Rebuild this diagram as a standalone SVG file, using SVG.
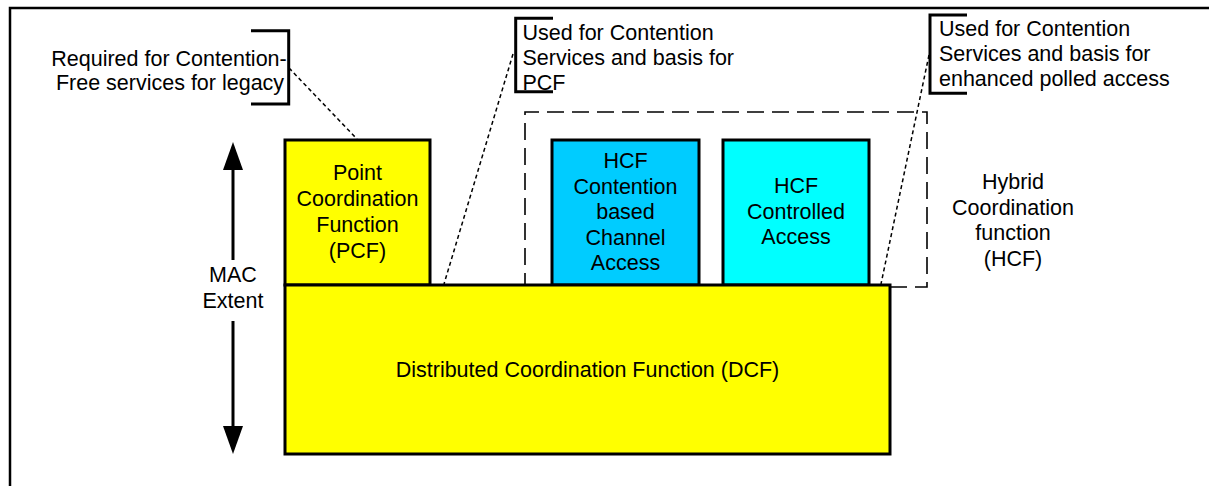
<svg xmlns="http://www.w3.org/2000/svg" width="1209" height="486" viewBox="0 0 1209 486">
<style>
text{font-family:"Liberation Sans",Arial,sans-serif;font-size:21.5px;fill:#000}
.c{text-anchor:middle}
.box{stroke:#000;stroke-width:3}
.br{fill:none;stroke:#000;stroke-width:3}
.dot{fill:none;stroke:#000;stroke-width:1.5;stroke-dasharray:4 3}
.dash{fill:none;stroke:#000;stroke-width:1.6;stroke-dasharray:17 8}
</style>
<defs>
<marker id="ah" viewBox="0 0 28 20" refX="0" refY="10" markerWidth="28" markerHeight="20" markerUnits="userSpaceOnUse" orient="auto">
<path d="M0,0 L28,10 L0,20 Z" fill="#000"/>
</marker>
</defs>
<rect width="1209" height="486" fill="#fff"/>
<path d="M10,486 V8 H1209" fill="none" stroke="#000" stroke-width="2.5"/>

<g id="hcf-group">
<path class="dash" d="M890,287 H927 V112 H525 V285"/>
<text class="c" x="1013" y="189">Hybrid</text>
<text class="c" x="1013" y="214.5">Coordination</text>
<text class="c" x="1013" y="240">function</text>
<text class="c" x="1013" y="265.5">(HCF)</text>
</g>

<g id="pcf">
<rect class="box" x="285" y="140" width="145" height="145" fill="#ffff00"/>
<text class="c" x="357.5" y="180">Point</text>
<text class="c" x="357.5" y="206">Coordination</text>
<text class="c" x="357.5" y="232">Function</text>
<text class="c" x="357.5" y="258">(PCF)</text>
</g>

<g id="hcf-cbca">
<rect class="box" x="552" y="140" width="147" height="145" fill="#00ccff"/>
<text class="c" x="625.5" y="168">HCF</text>
<text class="c" x="625.5" y="193.5">Contention</text>
<text class="c" x="625.5" y="219">based</text>
<text class="c" x="625.5" y="244.5">Channel</text>
<text class="c" x="625.5" y="270">Access</text>
</g>

<g id="hcf-ca">
<rect class="box" x="723" y="140" width="146" height="145" fill="#00ffff"/>
<text class="c" x="796" y="193">HCF</text>
<text class="c" x="796" y="218.5">Controlled</text>
<text class="c" x="796" y="244">Access</text>
</g>

<g id="dcf">
<rect class="box" x="285" y="285" width="605" height="169" fill="#ffff00"/>
<text class="c" x="587.5" y="377">Distributed Coordination Function (DCF)</text>
</g>

<g id="mac-extent">
<line x1="233" y1="260" x2="233" y2="170" stroke="#000" stroke-width="3" marker-end="url(#ah)"/>
<line x1="233" y1="321" x2="233" y2="426" stroke="#000" stroke-width="3" marker-end="url(#ah)"/>
<text class="c" x="233" y="282">MAC</text>
<text class="c" x="233" y="307.5">Extent</text>
</g>

<g id="note-pcf">
<path class="br" d="M251,30.7 H288.7 V104 H251"/>
<text class="c" x="169" y="65.7">Required for Contention-</text>
<text class="c" x="170" y="90">Free services for legacy</text>
</g>

<g id="note-dcf">
<path class="br" d="M553,18.3 H515.7 V91.7 H553"/>
<text x="522.5" y="39.5">Used for Contention</text>
<text x="522.5" y="65">Services and basis for</text>
<text x="522.5" y="90">PCF</text>
</g>

<g id="note-hcf">
<path class="br" d="M967,15 H930 V93.3 H967"/>
<text x="939" y="36">Used for Contention</text>
<text x="939" y="61">Services and basis for</text>
<text x="939" y="86">enhanced polled access</text>
</g>

<g id="connectors">
<line class="dot" x1="289" y1="68" x2="357" y2="139"/>
<line class="dot" x1="513" y1="54" x2="444" y2="284"/>
<line class="dot" x1="929" y1="55" x2="881" y2="284"/>
</g>
</svg>
